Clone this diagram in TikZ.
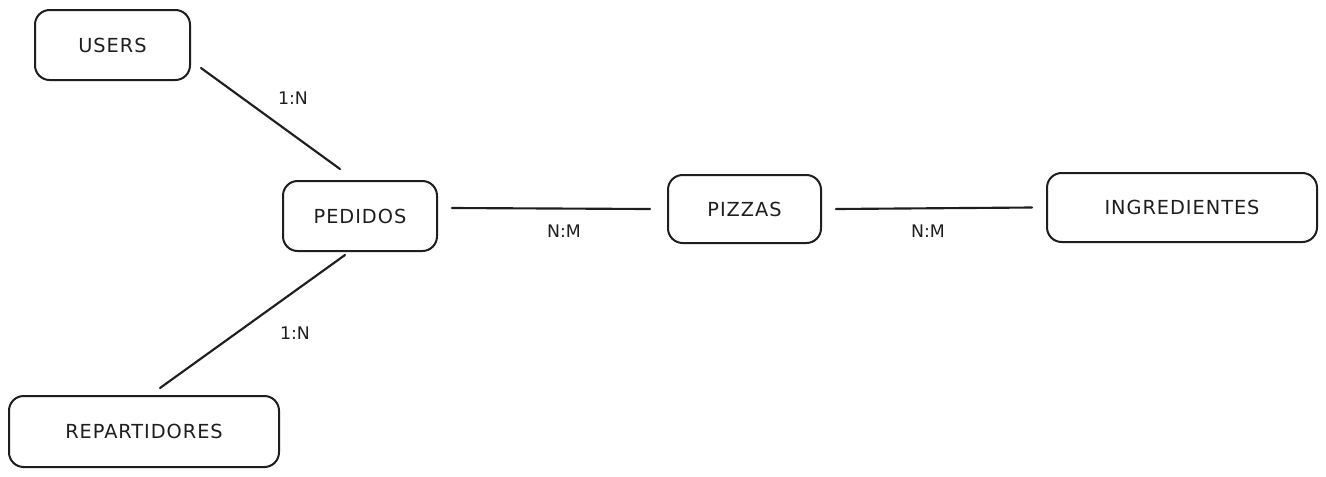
\documentclass[tikz,border=0pt]{standalone}
\usepackage{fontspec}
\setmainfont{DejaVu Sans}
\newfontfamily\boxfont[LetterSpace=5]{DejaVu Sans}
\usetikzlibrary{calc}
\definecolor{ink}{HTML}{1E1E1E}
\tikzset{
  entity/.style={draw=ink, line width=1.5pt, rounded corners=11pt, inner sep=0pt,
    font=\boxfont\fontsize{14.5}{17}\selectfont, text=ink},
  link/.style={draw=ink, line width=1.6pt, line cap=round},
  card/.style={font=\fontsize{13}{15}\selectfont, text=ink, inner sep=0pt}
}
\begin{document}
\begin{tikzpicture}[x=0.75pt, y=-0.75pt]
\useasboundingbox (0,0) rectangle (1326,476);
\fill[white] (0,0) rectangle (1326,476);

\node[entity, minimum width=116.25pt, minimum height=52.5pt] (users) at (112.5,45) {USERS};
\node[entity, minimum width=115.5pt, minimum height=52.5pt] (pedidos) at (360,216) {PEDIDOS};
\node[entity, minimum width=114.75pt, minimum height=51pt] (pizzas) at (744.5,209) {PIZZAS};
\node[entity, minimum width=202.5pt, minimum height=51.75pt] (ingr) at (1182,207.5) {INGREDIENTES};
\node[entity, minimum width=202.5pt, minimum height=53.25pt] (rep) at (144,431.5) {REPARTIDORES};

\draw[link] ($(users.south east)+(10,-13)$) -- ($(pedidos.north)+(-20,-11)$);
\draw[link] ($(pedidos.south)+(-15,3)$) -- ($(rep.north)+(16,-7)$);
\draw[link] ($(pedidos.east)+(14,-8)$) -- ($(pizzas.west)+(-17,0)$);
\draw[link] ($(pizzas.east)+(14,0)$) -- ($(ingr.west)+(-14,0)$);

\node[card] (c1) at (293,98) {1:N};
\node[card] (c2) at (295,333) {1:N};
\node[card] (c3) at (564,231) {N:M};
\node[card] (c4) at (928,231) {N:M};
\end{tikzpicture}
\end{document}
